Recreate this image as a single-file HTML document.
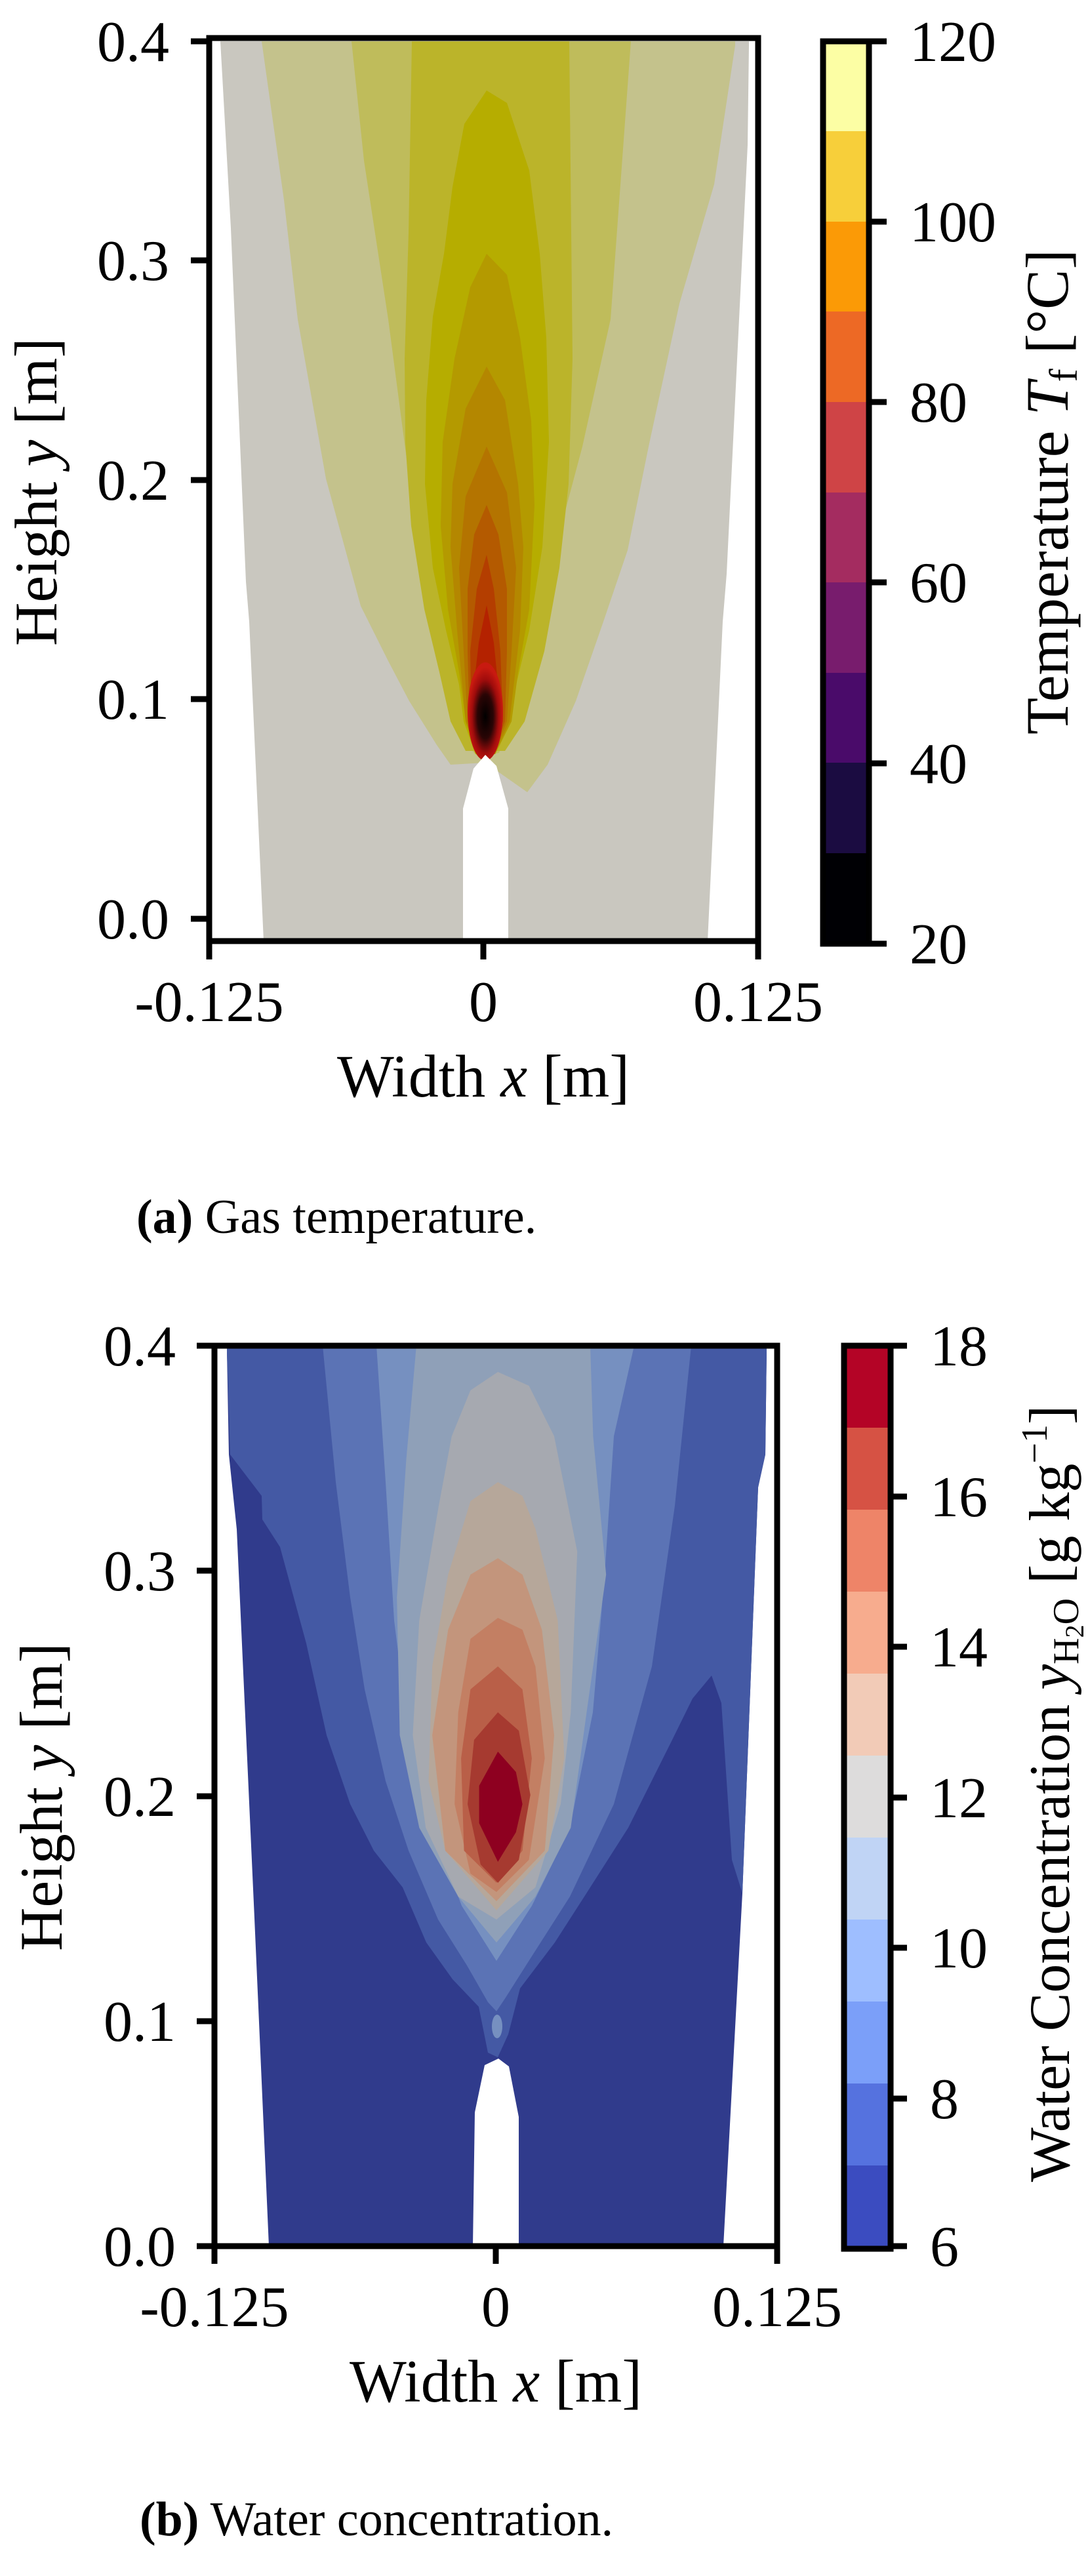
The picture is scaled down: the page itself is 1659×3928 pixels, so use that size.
<!DOCTYPE html>
<html><head><meta charset="utf-8"><style>
html,body{margin:0;padding:0;background:#fff;}
svg{display:block;}
text{font-family:"Liberation Serif",serif;fill:#000;}
</style></head><body>
<svg width="1659" height="3928" viewBox="0 0 1659 3928" xmlns="http://www.w3.org/2000/svg">
<defs>
<radialGradient id="core" cx="50%" cy="55%" r="50%">
<stop offset="0" stop-color="#000"/><stop offset="0.45" stop-color="#2a0505"/><stop offset="0.75" stop-color="#a00c0c"/><stop offset="1" stop-color="#c81a10"/>
</radialGradient>
</defs>
<!-- ========== TOP PLOT ========== -->
<polygon fill="#c9c7bf" points="336,63 352,348 375,887 380,948 402,1435 1079,1435 1102,948 1108,875 1140,221 1142,69 1142,63"/>
<polygon fill="#c4c28c" points="399,63 433,305 454,487 497,730 550,924 592,1008 624,1069 666,1136 687,1166 740,1163 804,1208 835,1166 878,1069 920,948 957,839 989,681 1036,463 1089,281 1121,69 1121,63"/>
<polygon fill="#bfbc5b" points="536,63 555,245 592,487 624,730 650,924 677,1045 706,1130 729,1154 761,1148 782,1093 814,972 846,839 888,681 931,487 962,63"/>
<polygon fill="#bbb42a" points="628,63 623,355 617,547 618,674 627,802 647,929 670,1025 687,1100 710,1145 770,1145 800,1100 830,993 853,866 867,738 873,547 871,355 868,63"/>
<polygon fill="#b6ad00" points="742,138 708,189 690,285 677,387 660,483 650,610 648,738 660,866 680,961 700,1044 707,1100 725,1150 755,1150 777,1100 787,1044 807,961 827,834 837,674 833,515 823,387 807,260 773,157"/>
<polygon fill="#b49a00" points="742,387 717,438 693,547 675,674 672,802 683,929 700,1025 710,1100 727,1150 755,1150 780,1100 790,1025 807,929 815,770 810,642 793,515 773,419"/>
<polygon fill="#b48700" points="742,559 710,623 690,738 687,834 697,961 710,1100 728,1150 754,1150 777,1100 793,961 798,834 790,738 770,610"/>
<polygon fill="#b47400" points="742,681 710,757 700,866 707,993 713,1100 729,1150 753,1150 773,1100 780,993 787,866 773,751"/>
<polygon fill="#b45a00" points="742,770 723,815 713,898 713,993 716,1100 730,1150 752,1150 770,1100 773,993 773,898 760,815"/>
<polygon fill="#b43e00" points="742,846 727,898 717,993 719,1100 732,1150 750,1150 767,1100 763,993 753,898"/>
<polygon fill="#b42200" points="742,923 730,980 722,1050 724,1110 736,1150 748,1150 762,1110 760,1050 753,980"/>
<ellipse cx="740" cy="1085" rx="27" ry="75" fill="url(#core)"/>
<polygon fill="#fff" points="706,1435 706,1233 722,1172 740,1151 757,1168 775,1233 775,1435"/>
<rect x="319" y="58" width="837" height="1377" fill="none" stroke="#000" stroke-width="9"/>
<g stroke="#000" stroke-width="9">
<line x1="291" y1="63" x2="319" y2="63"/><line x1="291" y1="397" x2="319" y2="397"/><line x1="291" y1="732" x2="319" y2="732"/><line x1="291" y1="1066" x2="319" y2="1066"/><line x1="291" y1="1401" x2="319" y2="1401"/>
<line x1="319" y1="1435" x2="319" y2="1463"/><line x1="737" y1="1435" x2="737" y2="1463"/><line x1="1156" y1="1435" x2="1156" y2="1463"/>
</g>
<g font-size="88" text-anchor="end">
<text x="258" y="93">0.4</text><text x="258" y="427">0.3</text><text x="258" y="762">0.2</text><text x="258" y="1096">0.1</text><text x="258" y="1431">0.0</text>
</g>
<g font-size="88" text-anchor="middle">
<text x="319" y="1557">-0.125</text><text x="737" y="1557">0</text><text x="1156" y="1557">0.125</text>
<text x="737" y="1672" font-size="92">Width <tspan font-style="italic">x</tspan> [m]</text>
</g>
<text transform="translate(86,750) rotate(-90)" font-size="92" text-anchor="middle">Height <tspan font-style="italic">y</tspan> [m]</text>
<g>
<rect x="1255" y="63" width="70" height="138" fill="#fcfea4"/>
<rect x="1255" y="200" width="70" height="138" fill="#f7cf3a"/>
<rect x="1255" y="338" width="70" height="138" fill="#fb9a06"/>
<rect x="1255" y="475" width="70" height="138" fill="#ed6925"/>
<rect x="1255" y="613" width="70" height="138" fill="#cf4446"/>
<rect x="1255" y="751" width="70" height="138" fill="#a42c60"/>
<rect x="1255" y="888" width="70" height="138" fill="#781c6d"/>
<rect x="1255" y="1026" width="70" height="138" fill="#4a0b6a"/>
<rect x="1255" y="1163" width="70" height="138" fill="#1b0c41"/>
<rect x="1255" y="1301" width="70" height="138" fill="#000004"/>
<rect x="1255" y="63" width="70" height="1376" fill="none" stroke="#000" stroke-width="9"/>
<g stroke="#000" stroke-width="9"><line x1="1325" y1="63" x2="1352" y2="63"/><line x1="1325" y1="338" x2="1352" y2="338"/><line x1="1325" y1="613" x2="1352" y2="613"/><line x1="1325" y1="888" x2="1352" y2="888"/><line x1="1325" y1="1164" x2="1352" y2="1164"/><line x1="1325" y1="1439" x2="1352" y2="1439"/></g>
<g font-size="88"><text x="1387" y="93">120</text><text x="1387" y="368">100</text><text x="1387" y="643">80</text><text x="1387" y="918">60</text><text x="1387" y="1194">40</text><text x="1387" y="1469">20</text></g>
<text transform="translate(1628,750) rotate(-90)" font-size="92" text-anchor="middle">Temperature <tspan font-style="italic">T</tspan><tspan font-size="60" dy="14">f</tspan><tspan dy="-14"> [°C]</tspan></text>
</g>
<text x="208" y="1880" font-size="74"><tspan font-weight="bold">(a)</tspan> Gas temperature.</text>

<!-- ========== BOTTOM PLOT ========== -->
<polygon fill="#303b8c" points="346,2052 346,2061 349,2218 361,2332 388,2925 410,3425 1103,3425 1132,2887 1156,2268 1167,2218 1169,2061 1169,2052"/>
<polygon fill="#4459a4" points="346,2052 346,2061 351,2218 399,2281 400,2317 427,2359 467,2506 498,2646 534,2751 570,2822 614,2878 650,2962 690,3018 730,3060 744,3130 759,3137 775,3102 793,3032 846,2962 891,2892 958,2787 1025,2653 1056,2590 1085,2555 1100,2597 1116,2836 1132,2887 1156,2268 1167,2218 1169,2061 1169,2052"/>
<polygon fill="#5b73b5" points="492,2052 512,2260 534,2436 556,2576 588,2716 623,2822 668,2927 712,2997 744,3053 757,3067 771,3046 802,2997 869,2892 936,2751 994,2541 1029,2296 1054,2052"/>
<polygon fill="#7690c0" points="574,2052 588,2260 601,2471 623,2646 659,2787 704,2906 757,2990 811,2906 869,2787 904,2611 922,2401 936,2190 967,2052"/>
<g transform="translate(757,0) scale(1.1,1) translate(-757,0)">
<polygon fill="#8fa0b8" points="646,2052 632,2225 619,2436 623,2646 650,2787 704,2892 757,2962 811,2892 860,2787 882,2611 909,2401 891,2190 887,2052"/>
<polygon fill="#a6a9b0" points="759,2092 721,2120 695,2190 677,2296 650,2471 641,2646 659,2787 704,2892 757,2927 811,2878 846,2751 860,2611 869,2366 837,2190 802,2113"/>
<polygon fill="#b6a79a" points="759,2260 721,2289 690,2401 668,2541 663,2716 686,2822 757,2913 829,2822 851,2681 842,2471 811,2331 793,2281"/>
<polygon fill="#c3957c" points="759,2376 721,2401 690,2485 668,2646 686,2822 757,2899 824,2822 837,2646 820,2485 793,2401"/>
<polygon fill="#c37f63" points="759,2467 721,2499 704,2611 699,2751 721,2857 757,2885 802,2836 824,2681 811,2541 793,2485"/>
<polygon fill="#b95f48" points="759,2541 721,2576 708,2681 712,2822 757,2871 793,2822 806,2681 793,2576"/>
<polygon fill="#a63a30" points="759,2611 726,2653 717,2751 735,2843 759,2871 788,2836 804,2737 788,2639"/>
<polygon fill="#8e0020" points="759,2671 733,2723 733,2780 759,2839 784,2794 793,2751 784,2702"/>
</g>
<ellipse cx="758" cy="3090" rx="8" ry="18" fill="#7690c0"/>
<polygon fill="#fff" points="721,3425 724,3221 739,3149 760,3139 776,3151 791,3228 791,3425"/>
<rect x="327" y="2052" width="858" height="1373" fill="none" stroke="#000" stroke-width="9"/>
<g stroke="#000" stroke-width="9">
<line x1="300" y1="2052" x2="327" y2="2052"/><line x1="300" y1="2395" x2="327" y2="2395"/><line x1="300" y1="2739" x2="327" y2="2739"/><line x1="300" y1="3082" x2="327" y2="3082"/><line x1="300" y1="3425" x2="327" y2="3425"/>
<line x1="327" y1="3425" x2="327" y2="3452"/><line x1="756" y1="3425" x2="756" y2="3452"/><line x1="1185" y1="3425" x2="1185" y2="3452"/>
</g>
<g font-size="88" text-anchor="end">
<text x="268" y="2082">0.4</text><text x="268" y="2425">0.3</text><text x="268" y="2769">0.2</text><text x="268" y="3112">0.1</text><text x="268" y="3455">0.0</text>
</g>
<g font-size="88" text-anchor="middle">
<text x="327" y="3547">-0.125</text><text x="756" y="3547">0</text><text x="1185" y="3547">0.125</text>
<text x="756" y="3662" font-size="92">Width <tspan font-style="italic">x</tspan> [m]</text>
</g>
<text transform="translate(94,2740) rotate(-90)" font-size="92" text-anchor="middle">Height <tspan font-style="italic">y</tspan> [m]</text>
<g>
<rect x="1287" y="2052" width="71" height="126" fill="#b40426"/>
<rect x="1287" y="2177" width="71" height="126" fill="#d65244"/>
<rect x="1287" y="2302" width="71" height="126" fill="#ee8468"/>
<rect x="1287" y="2427" width="71" height="126" fill="#f7ac8e"/>
<rect x="1287" y="2552" width="71" height="126" fill="#f2cbb7"/>
<rect x="1287" y="2677" width="71" height="126" fill="#dddcdc"/>
<rect x="1287" y="2802" width="71" height="126" fill="#c0d4f5"/>
<rect x="1287" y="2927" width="71" height="126" fill="#9ebeff"/>
<rect x="1287" y="3052" width="71" height="126" fill="#7b9ff9"/>
<rect x="1287" y="3177" width="71" height="126" fill="#5572df"/>
<rect x="1287" y="3302" width="71" height="127" fill="#3b4cc0"/>
<rect x="1287" y="2052" width="71" height="1377" fill="none" stroke="#000" stroke-width="9"/>
<g stroke="#000" stroke-width="9"><line x1="1358" y1="2052" x2="1383" y2="2052"/><line x1="1358" y1="2282" x2="1383" y2="2282"/><line x1="1358" y1="2511" x2="1383" y2="2511"/><line x1="1358" y1="2741" x2="1383" y2="2741"/><line x1="1358" y1="2970" x2="1383" y2="2970"/><line x1="1358" y1="3200" x2="1383" y2="3200"/><line x1="1358" y1="3425" x2="1383" y2="3425"/></g>
<g font-size="88"><text x="1418" y="2082">18</text><text x="1418" y="2312">16</text><text x="1418" y="2541">14</text><text x="1418" y="2771">12</text><text x="1418" y="3000">10</text><text x="1418" y="3230">8</text><text x="1418" y="3455">6</text></g>
<text transform="translate(1630,2735) rotate(-90)" font-size="88" text-anchor="middle">Water Concentration <tspan font-style="italic">y</tspan><tspan font-size="56" dy="14">H</tspan><tspan font-size="40" dy="8">2</tspan><tspan font-size="56" dy="-8">O</tspan><tspan dy="-14"> [g kg</tspan><tspan font-size="56" dy="-34">−1</tspan><tspan dy="34">]</tspan></text>
</g>
<text x="213" y="3866" font-size="74"><tspan font-weight="bold">(b)</tspan> Water concentration.</text>
</svg>
</body></html>
